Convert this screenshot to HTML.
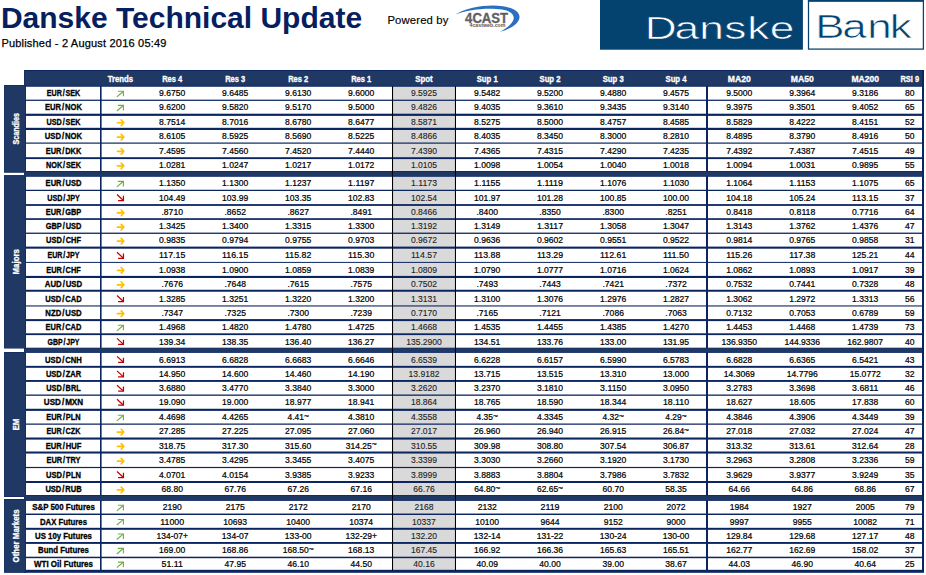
<!DOCTYPE html>
<html lang="en"><head><meta charset="utf-8">
<title>Danske Technical Update</title>
<style>
html,body{margin:0;padding:0;background:#fff}
body{width:926px;height:575px;overflow:hidden;font-family:"Liberation Sans",sans-serif}
svg{display:block}
text{font-family:"Liberation Sans",sans-serif}
.b{font-weight:bold;font-size:8.4px;text-anchor:middle;stroke-width:.3px}
.n{font-size:8.7px;text-anchor:middle;fill:#000;stroke:#000;stroke-width:.22px}
.s{font-size:8.7px;text-anchor:middle;fill:#1e1e26;stroke:#1e1e26;stroke-width:.12px}
</style></head><body>
<svg width="926" height="575" viewBox="0 0 926 575">
<rect width="926" height="575" fill="#fff"/>
<text x="0.9" y="27.7" font-size="30" font-weight="bold" fill="#06205f">Danske Technical Update</text>
<text x="1.4" y="46.6" font-size="11" fill="#000" stroke="#000" stroke-width="0.25" textLength="165" lengthAdjust="spacing">Published - 2 August 2016 05:49</text>
<text x="387.4" y="23.5" font-size="11.3" fill="#000" stroke="#000" stroke-width="0.15" textLength="61" lengthAdjust="spacing">Powered by</text>
<g id="fourcast">
<path d="M455.3 14.6C468 7 488 4.2 503 6.3C516 8.2 522 14 518.6 20.5C515.8 25.6 508.5 29.6 500 31.9C506 28.5 511.8 24.5 513.4 19.8C515 14.8 510.5 11 502 9.6C488.5 7.4 469 9.2 455.3 14.6Z" fill="#2b6fc0"/>
<text x="486.6" y="23.4" font-size="13.9" font-weight="bold" fill="#606064" stroke="#606064" stroke-width=".3" text-anchor="middle" textLength="43" lengthAdjust="spacingAndGlyphs">4CAST</text>
<text x="487.5" y="27.1" font-size="4.6" font-weight="bold" fill="#6e5548" text-anchor="middle" textLength="36" lengthAdjust="spacingAndGlyphs">4castweb.com</text>
</g>
<g id="dblogo">
<rect x="600" y="0" width="202.9" height="49.7" fill="#04426f"/>
<text transform="scale(1.38 1)" x="467.28 488.73 506.70 524.86 541.45 557.84" y="38.6" font-size="32.1" fill="#fff" stroke="#04426f" stroke-width=".6">Danske</text>
<rect x="808.5" y="0.85" width="114.9" height="48.25" fill="#fff" stroke="#04426f" stroke-width="1.25"/>
<rect x="807.9" y="0" width="116.1" height="1.7" fill="#04426f"/>
<text transform="scale(1.34 1)" x="608.32 628.62 647.24 664.07" y="38.5" font-size="32.8" fill="#04426f" stroke="#fff" stroke-width=".6">Bank</text>
</g>
<g id="table">
<rect x="24" y="70" width="900" height="502.8" fill="#0b2560"/>
<rect x="24.4" y="71" width="897.8" height="14.7" fill="#1f3864"/>
<rect x="4.05" y="85" width="21.9" height="87.7" fill="#0b2560"/>
<rect x="4.5" y="85.45" width="21" height="86.8" fill="#1f3864"/>
<rect x="4.05" y="175.1" width="21.9" height="173.4" fill="#0b2560"/>
<rect x="4.5" y="175.55" width="21" height="172.5" fill="#1f3864"/>
<rect x="4.05" y="352" width="21.9" height="145" fill="#0b2560"/>
<rect x="4.5" y="352.45" width="21" height="144.1" fill="#1f3864"/>
<rect x="4.05" y="499" width="21.9" height="73.8" fill="#0b2560"/>
<rect x="4.5" y="499.45" width="21" height="72.9" fill="#1f3864"/>
<rect x="24.4" y="171.55" width="897.8" height="4.7" fill="#1f3864"/>
<rect x="24.4" y="348.25" width="897.8" height="4.1" fill="#1f3864"/>
<rect x="24.4" y="495.55" width="897.8" height="4.8" fill="#1f3864"/>
<text x="120.4" y="82.3" class="b" fill="#fff" stroke="#fff" textLength="25.43" lengthAdjust="spacingAndGlyphs">Trends</text>
<text x="172.2" y="82.3" class="b" fill="#fff" stroke="#fff" textLength="20.09" lengthAdjust="spacingAndGlyphs">Res 4</text>
<text x="235.2" y="82.3" class="b" fill="#fff" stroke="#fff" textLength="20.09" lengthAdjust="spacingAndGlyphs">Res 3</text>
<text x="298.2" y="82.3" class="b" fill="#fff" stroke="#fff" textLength="20.09" lengthAdjust="spacingAndGlyphs">Res 2</text>
<text x="361.2" y="82.3" class="b" fill="#fff" stroke="#fff" textLength="20.09" lengthAdjust="spacingAndGlyphs">Res 1</text>
<text x="424" y="82.3" class="b" fill="#fff" stroke="#fff" textLength="17.42" lengthAdjust="spacingAndGlyphs">Spot</text>
<text x="487.2" y="82.3" class="b" fill="#fff" stroke="#fff" textLength="20.97" lengthAdjust="spacingAndGlyphs">Sup 1</text>
<text x="550" y="82.3" class="b" fill="#fff" stroke="#fff" textLength="20.97" lengthAdjust="spacingAndGlyphs">Sup 2</text>
<text x="613.2" y="82.3" class="b" fill="#fff" stroke="#fff" textLength="20.97" lengthAdjust="spacingAndGlyphs">Sup 3</text>
<text x="676" y="82.3" class="b" fill="#fff" stroke="#fff" textLength="20.97" lengthAdjust="spacingAndGlyphs">Sup 4</text>
<text x="739.3" y="82.3" class="b" fill="#fff" stroke="#fff" textLength="22.94" lengthAdjust="spacingAndGlyphs">MA20</text>
<text x="802.3" y="82.3" class="b" fill="#fff" stroke="#fff" textLength="22.94" lengthAdjust="spacingAndGlyphs">MA50</text>
<text x="865.2" y="82.3" class="b" fill="#fff" stroke="#fff" textLength="27.61" lengthAdjust="spacingAndGlyphs">MA200</text>
<text x="909.8" y="82.3" class="b" fill="#fff" stroke="#fff" textLength="18.63" lengthAdjust="spacingAndGlyphs">RSI 9</text>
<text transform="translate(18.5 128.85) rotate(-90)" class="b" fill="#fff" stroke="#fff" textLength="31.5" lengthAdjust="spacingAndGlyphs">Scandies</text>
<rect x="26" y="86.75" width="74" height="12.9" fill="#fff"/>
<rect x="101.6" y="86.75" width="290.4" height="12.9" fill="#fff"/>
<rect x="393" y="86.75" width="62" height="12.9" fill="#d9d9d9"/>
<rect x="456" y="86.75" width="250" height="12.9" fill="#fff"/>
<rect x="708" y="86.75" width="214" height="12.9" fill="#fff"/>
<text x="63.5" y="96.35" class="b" fill="#000" stroke="#000" textLength="33.49" lengthAdjust="spacingAndGlyphs">EUR<tspan dx="1">/</tspan><tspan dx="1">SEK</tspan></text>
<g fill="none" stroke="#70ad47" stroke-width="1.15"><path d="M116.8 96.85L123.2 91.45"/><path d="M117.8 91.25H123.4V96.35"/></g>
<text x="172.2" y="96.35" class="n" textLength="26.2" lengthAdjust="spacingAndGlyphs">9.6750</text>
<text x="235.2" y="96.35" class="n" textLength="26.2" lengthAdjust="spacingAndGlyphs">9.6485</text>
<text x="298.2" y="96.35" class="n" textLength="26.2" lengthAdjust="spacingAndGlyphs">9.6130</text>
<text x="361.2" y="96.35" class="n" textLength="26.2" lengthAdjust="spacingAndGlyphs">9.6000</text>
<text x="424" y="96.35" class="s" textLength="26.2" lengthAdjust="spacingAndGlyphs">9.5925</text>
<text x="487.2" y="96.35" class="n" textLength="26.2" lengthAdjust="spacingAndGlyphs">9.5482</text>
<text x="550" y="96.35" class="n" textLength="26.2" lengthAdjust="spacingAndGlyphs">9.5200</text>
<text x="613.2" y="96.35" class="n" textLength="26.2" lengthAdjust="spacingAndGlyphs">9.4880</text>
<text x="676" y="96.35" class="n" textLength="26.2" lengthAdjust="spacingAndGlyphs">9.4575</text>
<text x="739.3" y="96.35" class="n" textLength="26.2" lengthAdjust="spacingAndGlyphs">9.5000</text>
<text x="802.3" y="96.35" class="n" textLength="26.2" lengthAdjust="spacingAndGlyphs">9.3964</text>
<text x="865.2" y="96.35" class="n" textLength="26.2" lengthAdjust="spacingAndGlyphs">9.3186</text>
<text x="909.8" y="96.35" class="n" textLength="9.53" lengthAdjust="spacingAndGlyphs">80</text>
<rect x="26" y="100.9" width="74" height="12.8" fill="#fff"/>
<rect x="101.6" y="100.9" width="290.4" height="12.8" fill="#fff"/>
<rect x="393" y="100.9" width="62" height="12.8" fill="#d9d9d9"/>
<rect x="456" y="100.9" width="250" height="12.8" fill="#fff"/>
<rect x="708" y="100.9" width="214" height="12.8" fill="#fff"/>
<text x="63.5" y="110.45" class="b" fill="#000" stroke="#000" textLength="36.94" lengthAdjust="spacingAndGlyphs">EUR<tspan dx="1">/</tspan><tspan dx="1">NOK</tspan></text>
<g fill="none" stroke="#70ad47" stroke-width="1.15"><path d="M116.8 110.95L123.2 105.55"/><path d="M117.8 105.35H123.4V110.45"/></g>
<text x="172.2" y="110.45" class="n" textLength="26.2" lengthAdjust="spacingAndGlyphs">9.6200</text>
<text x="235.2" y="110.45" class="n" textLength="26.2" lengthAdjust="spacingAndGlyphs">9.5820</text>
<text x="298.2" y="110.45" class="n" textLength="26.2" lengthAdjust="spacingAndGlyphs">9.5170</text>
<text x="361.2" y="110.45" class="n" textLength="26.2" lengthAdjust="spacingAndGlyphs">9.5000</text>
<text x="424" y="110.45" class="s" textLength="26.2" lengthAdjust="spacingAndGlyphs">9.4826</text>
<text x="487.2" y="110.45" class="n" textLength="26.2" lengthAdjust="spacingAndGlyphs">9.4035</text>
<text x="550" y="110.45" class="n" textLength="26.2" lengthAdjust="spacingAndGlyphs">9.3610</text>
<text x="613.2" y="110.45" class="n" textLength="26.2" lengthAdjust="spacingAndGlyphs">9.3435</text>
<text x="676" y="110.45" class="n" textLength="26.2" lengthAdjust="spacingAndGlyphs">9.3140</text>
<text x="739.3" y="110.45" class="n" textLength="26.2" lengthAdjust="spacingAndGlyphs">9.3975</text>
<text x="802.3" y="110.45" class="n" textLength="26.2" lengthAdjust="spacingAndGlyphs">9.3501</text>
<text x="865.2" y="110.45" class="n" textLength="26.2" lengthAdjust="spacingAndGlyphs">9.4052</text>
<text x="909.8" y="110.45" class="n" textLength="9.53" lengthAdjust="spacingAndGlyphs">65</text>
<rect x="26" y="115.9" width="74" height="11.9" fill="#fff"/>
<rect x="101.6" y="115.9" width="290.4" height="11.9" fill="#fff"/>
<rect x="393" y="115.9" width="62" height="11.9" fill="#d9d9d9"/>
<rect x="456" y="115.9" width="250" height="11.9" fill="#fff"/>
<rect x="708" y="115.9" width="214" height="11.9" fill="#fff"/>
<text x="63.5" y="125" class="b" fill="#000" stroke="#000" textLength="33.97" lengthAdjust="spacingAndGlyphs">USD<tspan dx="1">/</tspan><tspan dx="1">SEK</tspan></text>
<g fill="none" stroke="#ffc000" stroke-width="1.7" stroke-linejoin="round" stroke-linecap="round"><path d="M117.4 122.75H123.2"/><path d="M121.2 119.95L123.8 122.75L121.2 125.55"/></g>
<text x="172.2" y="125" class="n" textLength="26.2" lengthAdjust="spacingAndGlyphs">8.7514</text>
<text x="235.2" y="125" class="n" textLength="26.2" lengthAdjust="spacingAndGlyphs">8.7016</text>
<text x="298.2" y="125" class="n" textLength="26.2" lengthAdjust="spacingAndGlyphs">8.6780</text>
<text x="361.2" y="125" class="n" textLength="26.2" lengthAdjust="spacingAndGlyphs">8.6477</text>
<text x="424" y="125" class="s" textLength="26.2" lengthAdjust="spacingAndGlyphs">8.5871</text>
<text x="487.2" y="125" class="n" textLength="26.2" lengthAdjust="spacingAndGlyphs">8.5275</text>
<text x="550" y="125" class="n" textLength="26.2" lengthAdjust="spacingAndGlyphs">8.5000</text>
<text x="613.2" y="125" class="n" textLength="26.2" lengthAdjust="spacingAndGlyphs">8.4757</text>
<text x="676" y="125" class="n" textLength="26.2" lengthAdjust="spacingAndGlyphs">8.4585</text>
<text x="739.3" y="125" class="n" textLength="26.2" lengthAdjust="spacingAndGlyphs">8.5829</text>
<text x="802.3" y="125" class="n" textLength="26.2" lengthAdjust="spacingAndGlyphs">8.4222</text>
<text x="865.2" y="125" class="n" textLength="26.2" lengthAdjust="spacingAndGlyphs">8.4151</text>
<text x="909.8" y="125" class="n" textLength="9.53" lengthAdjust="spacingAndGlyphs">52</text>
<rect x="26" y="130" width="74" height="12.5" fill="#fff"/>
<rect x="101.6" y="130" width="290.4" height="12.5" fill="#fff"/>
<rect x="393" y="130" width="62" height="12.5" fill="#d9d9d9"/>
<rect x="456" y="130" width="250" height="12.5" fill="#fff"/>
<rect x="708" y="130" width="214" height="12.5" fill="#fff"/>
<text x="63.5" y="139.4" class="b" fill="#000" stroke="#000" textLength="37.42" lengthAdjust="spacingAndGlyphs">USD<tspan dx="1">/</tspan><tspan dx="1">NOK</tspan></text>
<g fill="none" stroke="#ffc000" stroke-width="1.7" stroke-linejoin="round" stroke-linecap="round"><path d="M117.4 137.15H123.2"/><path d="M121.2 134.35L123.8 137.15L121.2 139.95"/></g>
<text x="172.2" y="139.4" class="n" textLength="26.2" lengthAdjust="spacingAndGlyphs">8.6105</text>
<text x="235.2" y="139.4" class="n" textLength="26.2" lengthAdjust="spacingAndGlyphs">8.5925</text>
<text x="298.2" y="139.4" class="n" textLength="26.2" lengthAdjust="spacingAndGlyphs">8.5690</text>
<text x="361.2" y="139.4" class="n" textLength="26.2" lengthAdjust="spacingAndGlyphs">8.5225</text>
<text x="424" y="139.4" class="s" textLength="26.2" lengthAdjust="spacingAndGlyphs">8.4866</text>
<text x="487.2" y="139.4" class="n" textLength="26.2" lengthAdjust="spacingAndGlyphs">8.4035</text>
<text x="550" y="139.4" class="n" textLength="26.2" lengthAdjust="spacingAndGlyphs">8.3450</text>
<text x="613.2" y="139.4" class="n" textLength="26.2" lengthAdjust="spacingAndGlyphs">8.3000</text>
<text x="676" y="139.4" class="n" textLength="26.2" lengthAdjust="spacingAndGlyphs">8.2810</text>
<text x="739.3" y="139.4" class="n" textLength="26.2" lengthAdjust="spacingAndGlyphs">8.4895</text>
<text x="802.3" y="139.4" class="n" textLength="26.2" lengthAdjust="spacingAndGlyphs">8.3790</text>
<text x="865.2" y="139.4" class="n" textLength="26.2" lengthAdjust="spacingAndGlyphs">8.4916</text>
<text x="909.8" y="139.4" class="n" textLength="9.53" lengthAdjust="spacingAndGlyphs">50</text>
<rect x="26" y="143.7" width="74" height="13.5" fill="#fff"/>
<rect x="101.6" y="143.7" width="290.4" height="13.5" fill="#fff"/>
<rect x="393" y="143.7" width="62" height="13.5" fill="#d9d9d9"/>
<rect x="456" y="143.7" width="250" height="13.5" fill="#fff"/>
<rect x="708" y="143.7" width="214" height="13.5" fill="#fff"/>
<text x="63.5" y="153.6" class="b" fill="#000" stroke="#000" textLength="35.49" lengthAdjust="spacingAndGlyphs">EUR<tspan dx="1">/</tspan><tspan dx="1">DKK</tspan></text>
<g fill="none" stroke="#ffc000" stroke-width="1.7" stroke-linejoin="round" stroke-linecap="round"><path d="M117.4 151.35H123.2"/><path d="M121.2 148.55L123.8 151.35L121.2 154.15"/></g>
<text x="172.2" y="153.6" class="n" textLength="26.2" lengthAdjust="spacingAndGlyphs">7.4595</text>
<text x="235.2" y="153.6" class="n" textLength="26.2" lengthAdjust="spacingAndGlyphs">7.4560</text>
<text x="298.2" y="153.6" class="n" textLength="26.2" lengthAdjust="spacingAndGlyphs">7.4520</text>
<text x="361.2" y="153.6" class="n" textLength="26.2" lengthAdjust="spacingAndGlyphs">7.4440</text>
<text x="424" y="153.6" class="s" textLength="26.2" lengthAdjust="spacingAndGlyphs">7.4390</text>
<text x="487.2" y="153.6" class="n" textLength="26.2" lengthAdjust="spacingAndGlyphs">7.4365</text>
<text x="550" y="153.6" class="n" textLength="26.2" lengthAdjust="spacingAndGlyphs">7.4315</text>
<text x="613.2" y="153.6" class="n" textLength="26.2" lengthAdjust="spacingAndGlyphs">7.4290</text>
<text x="676" y="153.6" class="n" textLength="26.2" lengthAdjust="spacingAndGlyphs">7.4235</text>
<text x="739.3" y="153.6" class="n" textLength="26.2" lengthAdjust="spacingAndGlyphs">7.4392</text>
<text x="802.3" y="153.6" class="n" textLength="26.2" lengthAdjust="spacingAndGlyphs">7.4387</text>
<text x="865.2" y="153.6" class="n" textLength="26.2" lengthAdjust="spacingAndGlyphs">7.4515</text>
<text x="909.8" y="153.6" class="n" textLength="9.53" lengthAdjust="spacingAndGlyphs">49</text>
<rect x="26" y="159.1" width="74" height="11.9" fill="#fff"/>
<rect x="101.6" y="159.1" width="290.4" height="11.9" fill="#fff"/>
<rect x="393" y="159.1" width="62" height="11.9" fill="#d9d9d9"/>
<rect x="456" y="159.1" width="250" height="11.9" fill="#fff"/>
<rect x="708" y="159.1" width="214" height="11.9" fill="#fff"/>
<text x="63.5" y="168.2" class="b" fill="#000" stroke="#000" textLength="35.13" lengthAdjust="spacingAndGlyphs">NOK<tspan dx="1">/</tspan><tspan dx="1">SEK</tspan></text>
<g fill="none" stroke="#ffc000" stroke-width="1.7" stroke-linejoin="round" stroke-linecap="round"><path d="M117.4 165.95H123.2"/><path d="M121.2 163.15L123.8 165.95L121.2 168.75"/></g>
<text x="172.2" y="168.2" class="n" textLength="26.2" lengthAdjust="spacingAndGlyphs">1.0281</text>
<text x="235.2" y="168.2" class="n" textLength="26.2" lengthAdjust="spacingAndGlyphs">1.0247</text>
<text x="298.2" y="168.2" class="n" textLength="26.2" lengthAdjust="spacingAndGlyphs">1.0217</text>
<text x="361.2" y="168.2" class="n" textLength="26.2" lengthAdjust="spacingAndGlyphs">1.0172</text>
<text x="424" y="168.2" class="s" textLength="26.2" lengthAdjust="spacingAndGlyphs">1.0105</text>
<text x="487.2" y="168.2" class="n" textLength="26.2" lengthAdjust="spacingAndGlyphs">1.0098</text>
<text x="550" y="168.2" class="n" textLength="26.2" lengthAdjust="spacingAndGlyphs">1.0054</text>
<text x="613.2" y="168.2" class="n" textLength="26.2" lengthAdjust="spacingAndGlyphs">1.0040</text>
<text x="676" y="168.2" class="n" textLength="26.2" lengthAdjust="spacingAndGlyphs">1.0018</text>
<text x="739.3" y="168.2" class="n" textLength="26.2" lengthAdjust="spacingAndGlyphs">1.0094</text>
<text x="802.3" y="168.2" class="n" textLength="26.2" lengthAdjust="spacingAndGlyphs">1.0031</text>
<text x="865.2" y="168.2" class="n" textLength="26.2" lengthAdjust="spacingAndGlyphs">0.9895</text>
<text x="909.8" y="168.2" class="n" textLength="9.53" lengthAdjust="spacingAndGlyphs">55</text>
<text transform="translate(18.5 261.8) rotate(-90)" class="b" fill="#fff" stroke="#fff" textLength="25.4" lengthAdjust="spacingAndGlyphs">Majors</text>
<rect x="26" y="176.8" width="74" height="12.95" fill="#fff"/>
<rect x="101.6" y="176.8" width="290.4" height="12.95" fill="#fff"/>
<rect x="393" y="176.8" width="62" height="12.95" fill="#d9d9d9"/>
<rect x="456" y="176.8" width="250" height="12.95" fill="#fff"/>
<rect x="708" y="176.8" width="214" height="12.95" fill="#fff"/>
<text x="63.5" y="186.43" class="b" fill="#000" stroke="#000" textLength="35.78" lengthAdjust="spacingAndGlyphs">EUR<tspan dx="1">/</tspan><tspan dx="1">USD</tspan></text>
<g fill="none" stroke="#70ad47" stroke-width="1.15"><path d="M116.8 186.93L123.2 181.53"/><path d="M117.8 181.33H123.4V186.43"/></g>
<text x="172.2" y="186.43" class="n" textLength="26.2" lengthAdjust="spacingAndGlyphs">1.1350</text>
<text x="235.2" y="186.43" class="n" textLength="26.2" lengthAdjust="spacingAndGlyphs">1.1300</text>
<text x="298.2" y="186.43" class="n" textLength="26.2" lengthAdjust="spacingAndGlyphs">1.1237</text>
<text x="361.2" y="186.43" class="n" textLength="26.2" lengthAdjust="spacingAndGlyphs">1.1197</text>
<text x="424" y="186.43" class="s" textLength="26.2" lengthAdjust="spacingAndGlyphs">1.1173</text>
<text x="487.2" y="186.43" class="n" textLength="26.2" lengthAdjust="spacingAndGlyphs">1.1155</text>
<text x="550" y="186.43" class="n" textLength="26.2" lengthAdjust="spacingAndGlyphs">1.1119</text>
<text x="613.2" y="186.43" class="n" textLength="26.2" lengthAdjust="spacingAndGlyphs">1.1076</text>
<text x="676" y="186.43" class="n" textLength="26.2" lengthAdjust="spacingAndGlyphs">1.1030</text>
<text x="739.3" y="186.43" class="n" textLength="26.2" lengthAdjust="spacingAndGlyphs">1.1064</text>
<text x="802.3" y="186.43" class="n" textLength="26.2" lengthAdjust="spacingAndGlyphs">1.1153</text>
<text x="865.2" y="186.43" class="n" textLength="26.2" lengthAdjust="spacingAndGlyphs">1.1075</text>
<text x="909.8" y="186.43" class="n" textLength="9.53" lengthAdjust="spacingAndGlyphs">65</text>
<rect x="26" y="191" width="74" height="13.1" fill="#fff"/>
<rect x="101.6" y="191" width="290.4" height="13.1" fill="#fff"/>
<rect x="393" y="191" width="62" height="13.1" fill="#d9d9d9"/>
<rect x="456" y="191" width="250" height="13.1" fill="#fff"/>
<rect x="708" y="191" width="214" height="13.1" fill="#fff"/>
<text x="63.5" y="200.7" class="b" fill="#000" stroke="#000" textLength="32.55" lengthAdjust="spacingAndGlyphs">USD<tspan dx="1">/</tspan><tspan dx="1">JPY</tspan></text>
<g fill="none" stroke="#c00000" stroke-width="1.25"><path d="M117 194.55L123.2 200.25"/><path d="M118.1 200.5H123.45V195.85"/></g>
<text x="172.2" y="200.7" class="n" textLength="26.2" lengthAdjust="spacingAndGlyphs">104.49</text>
<text x="235.2" y="200.7" class="n" textLength="26.2" lengthAdjust="spacingAndGlyphs">103.99</text>
<text x="298.2" y="200.7" class="n" textLength="26.2" lengthAdjust="spacingAndGlyphs">103.35</text>
<text x="361.2" y="200.7" class="n" textLength="26.2" lengthAdjust="spacingAndGlyphs">102.83</text>
<text x="424" y="200.7" class="s" textLength="26.2" lengthAdjust="spacingAndGlyphs">102.54</text>
<text x="487.2" y="200.7" class="n" textLength="26.2" lengthAdjust="spacingAndGlyphs">101.97</text>
<text x="550" y="200.7" class="n" textLength="26.2" lengthAdjust="spacingAndGlyphs">101.28</text>
<text x="613.2" y="200.7" class="n" textLength="26.2" lengthAdjust="spacingAndGlyphs">100.85</text>
<text x="676" y="200.7" class="n" textLength="26.2" lengthAdjust="spacingAndGlyphs">100.00</text>
<text x="739.3" y="200.7" class="n" textLength="26.2" lengthAdjust="spacingAndGlyphs">104.18</text>
<text x="802.3" y="200.7" class="n" textLength="26.2" lengthAdjust="spacingAndGlyphs">105.24</text>
<text x="865.2" y="200.7" class="n" textLength="26.2" lengthAdjust="spacingAndGlyphs">113.15</text>
<text x="909.8" y="200.7" class="n" textLength="9.53" lengthAdjust="spacingAndGlyphs">37</text>
<rect x="26" y="205.9" width="74" height="12.3" fill="#fff"/>
<rect x="101.6" y="205.9" width="290.4" height="12.3" fill="#fff"/>
<rect x="393" y="205.9" width="62" height="12.3" fill="#d9d9d9"/>
<rect x="456" y="205.9" width="250" height="12.3" fill="#fff"/>
<rect x="708" y="205.9" width="214" height="12.3" fill="#fff"/>
<text x="63.5" y="215.2" class="b" fill="#000" stroke="#000" textLength="35.54" lengthAdjust="spacingAndGlyphs">EUR<tspan dx="1">/</tspan><tspan dx="1">GBP</tspan></text>
<g fill="none" stroke="#ffc000" stroke-width="1.7" stroke-linejoin="round" stroke-linecap="round"><path d="M117.4 212.95H123.2"/><path d="M121.2 210.15L123.8 212.95L121.2 215.75"/></g>
<text x="172.2" y="215.2" class="n" textLength="21.43" lengthAdjust="spacingAndGlyphs">.8710</text>
<text x="235.2" y="215.2" class="n" textLength="21.43" lengthAdjust="spacingAndGlyphs">.8652</text>
<text x="298.2" y="215.2" class="n" textLength="21.43" lengthAdjust="spacingAndGlyphs">.8627</text>
<text x="361.2" y="215.2" class="n" textLength="21.43" lengthAdjust="spacingAndGlyphs">.8491</text>
<text x="424" y="215.2" class="s" textLength="26.2" lengthAdjust="spacingAndGlyphs">0.8466</text>
<text x="487.2" y="215.2" class="n" textLength="21.43" lengthAdjust="spacingAndGlyphs">.8400</text>
<text x="550" y="215.2" class="n" textLength="21.43" lengthAdjust="spacingAndGlyphs">.8350</text>
<text x="613.2" y="215.2" class="n" textLength="21.43" lengthAdjust="spacingAndGlyphs">.8300</text>
<text x="676" y="215.2" class="n" textLength="21.43" lengthAdjust="spacingAndGlyphs">.8251</text>
<text x="739.3" y="215.2" class="n" textLength="26.2" lengthAdjust="spacingAndGlyphs">0.8418</text>
<text x="802.3" y="215.2" class="n" textLength="26.2" lengthAdjust="spacingAndGlyphs">0.8118</text>
<text x="865.2" y="215.2" class="n" textLength="26.2" lengthAdjust="spacingAndGlyphs">0.7716</text>
<text x="909.8" y="215.2" class="n" textLength="9.53" lengthAdjust="spacingAndGlyphs">64</text>
<rect x="26" y="219.9" width="74" height="12.7" fill="#fff"/>
<rect x="101.6" y="219.9" width="290.4" height="12.7" fill="#fff"/>
<rect x="393" y="219.9" width="62" height="12.7" fill="#d9d9d9"/>
<rect x="456" y="219.9" width="250" height="12.7" fill="#fff"/>
<rect x="708" y="219.9" width="214" height="12.7" fill="#fff"/>
<text x="63.5" y="229.4" class="b" fill="#000" stroke="#000" textLength="35.64" lengthAdjust="spacingAndGlyphs">GBP<tspan dx="1">/</tspan><tspan dx="1">USD</tspan></text>
<g fill="none" stroke="#ffc000" stroke-width="1.7" stroke-linejoin="round" stroke-linecap="round"><path d="M117.4 227.15H123.2"/><path d="M121.2 224.35L123.8 227.15L121.2 229.95"/></g>
<text x="172.2" y="229.4" class="n" textLength="26.2" lengthAdjust="spacingAndGlyphs">1.3425</text>
<text x="235.2" y="229.4" class="n" textLength="26.2" lengthAdjust="spacingAndGlyphs">1.3400</text>
<text x="298.2" y="229.4" class="n" textLength="26.2" lengthAdjust="spacingAndGlyphs">1.3315</text>
<text x="361.2" y="229.4" class="n" textLength="26.2" lengthAdjust="spacingAndGlyphs">1.3300</text>
<text x="424" y="229.4" class="s" textLength="26.2" lengthAdjust="spacingAndGlyphs">1.3192</text>
<text x="487.2" y="229.4" class="n" textLength="26.2" lengthAdjust="spacingAndGlyphs">1.3149</text>
<text x="550" y="229.4" class="n" textLength="26.2" lengthAdjust="spacingAndGlyphs">1.3117</text>
<text x="613.2" y="229.4" class="n" textLength="26.2" lengthAdjust="spacingAndGlyphs">1.3058</text>
<text x="676" y="229.4" class="n" textLength="26.2" lengthAdjust="spacingAndGlyphs">1.3047</text>
<text x="739.3" y="229.4" class="n" textLength="26.2" lengthAdjust="spacingAndGlyphs">1.3143</text>
<text x="802.3" y="229.4" class="n" textLength="26.2" lengthAdjust="spacingAndGlyphs">1.3762</text>
<text x="865.2" y="229.4" class="n" textLength="26.2" lengthAdjust="spacingAndGlyphs">1.4376</text>
<text x="909.8" y="229.4" class="n" textLength="9.53" lengthAdjust="spacingAndGlyphs">47</text>
<rect x="26" y="233.9" width="74" height="12.7" fill="#fff"/>
<rect x="101.6" y="233.9" width="290.4" height="12.7" fill="#fff"/>
<rect x="393" y="233.9" width="62" height="12.7" fill="#d9d9d9"/>
<rect x="456" y="233.9" width="250" height="12.7" fill="#fff"/>
<rect x="708" y="233.9" width="214" height="12.7" fill="#fff"/>
<text x="63.5" y="243.4" class="b" fill="#000" stroke="#000" textLength="35" lengthAdjust="spacingAndGlyphs">USD<tspan dx="1">/</tspan><tspan dx="1">CHF</tspan></text>
<g fill="none" stroke="#ffc000" stroke-width="1.7" stroke-linejoin="round" stroke-linecap="round"><path d="M117.4 241.15H123.2"/><path d="M121.2 238.35L123.8 241.15L121.2 243.95"/></g>
<text x="172.2" y="243.4" class="n" textLength="26.2" lengthAdjust="spacingAndGlyphs">0.9835</text>
<text x="235.2" y="243.4" class="n" textLength="26.2" lengthAdjust="spacingAndGlyphs">0.9794</text>
<text x="298.2" y="243.4" class="n" textLength="26.2" lengthAdjust="spacingAndGlyphs">0.9755</text>
<text x="361.2" y="243.4" class="n" textLength="26.2" lengthAdjust="spacingAndGlyphs">0.9703</text>
<text x="424" y="243.4" class="s" textLength="26.2" lengthAdjust="spacingAndGlyphs">0.9672</text>
<text x="487.2" y="243.4" class="n" textLength="26.2" lengthAdjust="spacingAndGlyphs">0.9636</text>
<text x="550" y="243.4" class="n" textLength="26.2" lengthAdjust="spacingAndGlyphs">0.9602</text>
<text x="613.2" y="243.4" class="n" textLength="26.2" lengthAdjust="spacingAndGlyphs">0.9551</text>
<text x="676" y="243.4" class="n" textLength="26.2" lengthAdjust="spacingAndGlyphs">0.9522</text>
<text x="739.3" y="243.4" class="n" textLength="26.2" lengthAdjust="spacingAndGlyphs">0.9814</text>
<text x="802.3" y="243.4" class="n" textLength="26.2" lengthAdjust="spacingAndGlyphs">0.9765</text>
<text x="865.2" y="243.4" class="n" textLength="26.2" lengthAdjust="spacingAndGlyphs">0.9858</text>
<text x="909.8" y="243.4" class="n" textLength="9.53" lengthAdjust="spacingAndGlyphs">31</text>
<rect x="26" y="248.7" width="74" height="13.2" fill="#fff"/>
<rect x="101.6" y="248.7" width="290.4" height="13.2" fill="#fff"/>
<rect x="393" y="248.7" width="62" height="13.2" fill="#d9d9d9"/>
<rect x="456" y="248.7" width="250" height="13.2" fill="#fff"/>
<rect x="708" y="248.7" width="214" height="13.2" fill="#fff"/>
<text x="63.5" y="258.45" class="b" fill="#000" stroke="#000" textLength="32.07" lengthAdjust="spacingAndGlyphs">EUR<tspan dx="1">/</tspan><tspan dx="1">JPY</tspan></text>
<g fill="none" stroke="#c00000" stroke-width="1.25"><path d="M117 252.3L123.2 258"/><path d="M118.1 258.25H123.45V253.6"/></g>
<text x="172.2" y="258.45" class="n" textLength="26.2" lengthAdjust="spacingAndGlyphs">117.15</text>
<text x="235.2" y="258.45" class="n" textLength="26.2" lengthAdjust="spacingAndGlyphs">116.15</text>
<text x="298.2" y="258.45" class="n" textLength="26.2" lengthAdjust="spacingAndGlyphs">115.82</text>
<text x="361.2" y="258.45" class="n" textLength="26.2" lengthAdjust="spacingAndGlyphs">115.30</text>
<text x="424" y="258.45" class="s" textLength="26.2" lengthAdjust="spacingAndGlyphs">114.57</text>
<text x="487.2" y="258.45" class="n" textLength="26.2" lengthAdjust="spacingAndGlyphs">113.88</text>
<text x="550" y="258.45" class="n" textLength="26.2" lengthAdjust="spacingAndGlyphs">113.29</text>
<text x="613.2" y="258.45" class="n" textLength="26.2" lengthAdjust="spacingAndGlyphs">112.61</text>
<text x="676" y="258.45" class="n" textLength="26.2" lengthAdjust="spacingAndGlyphs">111.50</text>
<text x="739.3" y="258.45" class="n" textLength="26.2" lengthAdjust="spacingAndGlyphs">115.26</text>
<text x="802.3" y="258.45" class="n" textLength="26.2" lengthAdjust="spacingAndGlyphs">117.38</text>
<text x="865.2" y="258.45" class="n" textLength="26.2" lengthAdjust="spacingAndGlyphs">125.21</text>
<text x="909.8" y="258.45" class="n" textLength="9.53" lengthAdjust="spacingAndGlyphs">44</text>
<rect x="26" y="262.9" width="74" height="13" fill="#fff"/>
<rect x="101.6" y="262.9" width="290.4" height="13" fill="#fff"/>
<rect x="393" y="262.9" width="62" height="13" fill="#d9d9d9"/>
<rect x="456" y="262.9" width="250" height="13" fill="#fff"/>
<rect x="708" y="262.9" width="214" height="13" fill="#fff"/>
<text x="63.5" y="272.55" class="b" fill="#000" stroke="#000" textLength="34.52" lengthAdjust="spacingAndGlyphs">EUR<tspan dx="1">/</tspan><tspan dx="1">CHF</tspan></text>
<g fill="none" stroke="#ffc000" stroke-width="1.7" stroke-linejoin="round" stroke-linecap="round"><path d="M117.4 270.3H123.2"/><path d="M121.2 267.5L123.8 270.3L121.2 273.1"/></g>
<text x="172.2" y="272.55" class="n" textLength="26.2" lengthAdjust="spacingAndGlyphs">1.0938</text>
<text x="235.2" y="272.55" class="n" textLength="26.2" lengthAdjust="spacingAndGlyphs">1.0900</text>
<text x="298.2" y="272.55" class="n" textLength="26.2" lengthAdjust="spacingAndGlyphs">1.0859</text>
<text x="361.2" y="272.55" class="n" textLength="26.2" lengthAdjust="spacingAndGlyphs">1.0839</text>
<text x="424" y="272.55" class="s" textLength="26.2" lengthAdjust="spacingAndGlyphs">1.0809</text>
<text x="487.2" y="272.55" class="n" textLength="26.2" lengthAdjust="spacingAndGlyphs">1.0790</text>
<text x="550" y="272.55" class="n" textLength="26.2" lengthAdjust="spacingAndGlyphs">1.0777</text>
<text x="613.2" y="272.55" class="n" textLength="26.2" lengthAdjust="spacingAndGlyphs">1.0716</text>
<text x="676" y="272.55" class="n" textLength="26.2" lengthAdjust="spacingAndGlyphs">1.0624</text>
<text x="739.3" y="272.55" class="n" textLength="26.2" lengthAdjust="spacingAndGlyphs">1.0862</text>
<text x="802.3" y="272.55" class="n" textLength="26.2" lengthAdjust="spacingAndGlyphs">1.0893</text>
<text x="865.2" y="272.55" class="n" textLength="26.2" lengthAdjust="spacingAndGlyphs">1.0917</text>
<text x="909.8" y="272.55" class="n" textLength="9.53" lengthAdjust="spacingAndGlyphs">39</text>
<rect x="26" y="278" width="74" height="11.75" fill="#fff"/>
<rect x="101.6" y="278" width="290.4" height="11.75" fill="#fff"/>
<rect x="393" y="278" width="62" height="11.75" fill="#d9d9d9"/>
<rect x="456" y="278" width="250" height="11.75" fill="#fff"/>
<rect x="708" y="278" width="214" height="11.75" fill="#fff"/>
<text x="63.5" y="287.02" class="b" fill="#000" stroke="#000" textLength="37.33" lengthAdjust="spacingAndGlyphs">AUD<tspan dx="1">/</tspan><tspan dx="1">USD</tspan></text>
<g fill="none" stroke="#ffc000" stroke-width="1.7" stroke-linejoin="round" stroke-linecap="round"><path d="M117.4 284.78H123.2"/><path d="M121.2 281.98L123.8 284.78L121.2 287.58"/></g>
<text x="172.2" y="287.02" class="n" textLength="21.43" lengthAdjust="spacingAndGlyphs">.7676</text>
<text x="235.2" y="287.02" class="n" textLength="21.43" lengthAdjust="spacingAndGlyphs">.7648</text>
<text x="298.2" y="287.02" class="n" textLength="21.43" lengthAdjust="spacingAndGlyphs">.7615</text>
<text x="361.2" y="287.02" class="n" textLength="21.43" lengthAdjust="spacingAndGlyphs">.7575</text>
<text x="424" y="287.02" class="s" textLength="26.2" lengthAdjust="spacingAndGlyphs">0.7502</text>
<text x="487.2" y="287.02" class="n" textLength="21.43" lengthAdjust="spacingAndGlyphs">.7493</text>
<text x="550" y="287.02" class="n" textLength="21.43" lengthAdjust="spacingAndGlyphs">.7443</text>
<text x="613.2" y="287.02" class="n" textLength="21.43" lengthAdjust="spacingAndGlyphs">.7421</text>
<text x="676" y="287.02" class="n" textLength="21.43" lengthAdjust="spacingAndGlyphs">.7372</text>
<text x="739.3" y="287.02" class="n" textLength="26.2" lengthAdjust="spacingAndGlyphs">0.7532</text>
<text x="802.3" y="287.02" class="n" textLength="26.2" lengthAdjust="spacingAndGlyphs">0.7441</text>
<text x="865.2" y="287.02" class="n" textLength="26.2" lengthAdjust="spacingAndGlyphs">0.7328</text>
<text x="909.8" y="287.02" class="n" textLength="9.53" lengthAdjust="spacingAndGlyphs">48</text>
<rect x="26" y="291.75" width="74" height="13.65" fill="#fff"/>
<rect x="101.6" y="291.75" width="290.4" height="13.65" fill="#fff"/>
<rect x="393" y="291.75" width="62" height="13.65" fill="#d9d9d9"/>
<rect x="456" y="291.75" width="250" height="13.65" fill="#fff"/>
<rect x="708" y="291.75" width="214" height="13.65" fill="#fff"/>
<text x="63.5" y="301.72" class="b" fill="#000" stroke="#000" textLength="36.35" lengthAdjust="spacingAndGlyphs">USD<tspan dx="1">/</tspan><tspan dx="1">CAD</tspan></text>
<g fill="none" stroke="#c00000" stroke-width="1.25"><path d="M117 295.57L123.2 301.27"/><path d="M118.1 301.52H123.45V296.88"/></g>
<text x="172.2" y="301.72" class="n" textLength="26.2" lengthAdjust="spacingAndGlyphs">1.3285</text>
<text x="235.2" y="301.72" class="n" textLength="26.2" lengthAdjust="spacingAndGlyphs">1.3251</text>
<text x="298.2" y="301.72" class="n" textLength="26.2" lengthAdjust="spacingAndGlyphs">1.3220</text>
<text x="361.2" y="301.72" class="n" textLength="26.2" lengthAdjust="spacingAndGlyphs">1.3200</text>
<text x="424" y="301.72" class="s" textLength="26.2" lengthAdjust="spacingAndGlyphs">1.3131</text>
<text x="487.2" y="301.72" class="n" textLength="26.2" lengthAdjust="spacingAndGlyphs">1.3100</text>
<text x="550" y="301.72" class="n" textLength="26.2" lengthAdjust="spacingAndGlyphs">1.3076</text>
<text x="613.2" y="301.72" class="n" textLength="26.2" lengthAdjust="spacingAndGlyphs">1.2976</text>
<text x="676" y="301.72" class="n" textLength="26.2" lengthAdjust="spacingAndGlyphs">1.2827</text>
<text x="739.3" y="301.72" class="n" textLength="26.2" lengthAdjust="spacingAndGlyphs">1.3062</text>
<text x="802.3" y="301.72" class="n" textLength="26.2" lengthAdjust="spacingAndGlyphs">1.2972</text>
<text x="865.2" y="301.72" class="n" textLength="26.2" lengthAdjust="spacingAndGlyphs">1.3313</text>
<text x="909.8" y="301.72" class="n" textLength="9.53" lengthAdjust="spacingAndGlyphs">56</text>
<rect x="26" y="306.5" width="74" height="12.6" fill="#fff"/>
<rect x="101.6" y="306.5" width="290.4" height="12.6" fill="#fff"/>
<rect x="393" y="306.5" width="62" height="12.6" fill="#d9d9d9"/>
<rect x="456" y="306.5" width="250" height="12.6" fill="#fff"/>
<rect x="708" y="306.5" width="214" height="12.6" fill="#fff"/>
<text x="63.5" y="315.95" class="b" fill="#000" stroke="#000" textLength="36.36" lengthAdjust="spacingAndGlyphs">NZD<tspan dx="1">/</tspan><tspan dx="1">USD</tspan></text>
<g fill="none" stroke="#ffc000" stroke-width="1.7" stroke-linejoin="round" stroke-linecap="round"><path d="M117.4 313.7H123.2"/><path d="M121.2 310.9L123.8 313.7L121.2 316.5"/></g>
<text x="172.2" y="315.95" class="n" textLength="21.43" lengthAdjust="spacingAndGlyphs">.7347</text>
<text x="235.2" y="315.95" class="n" textLength="21.43" lengthAdjust="spacingAndGlyphs">.7325</text>
<text x="298.2" y="315.95" class="n" textLength="21.43" lengthAdjust="spacingAndGlyphs">.7300</text>
<text x="361.2" y="315.95" class="n" textLength="21.43" lengthAdjust="spacingAndGlyphs">.7239</text>
<text x="424" y="315.95" class="s" textLength="26.2" lengthAdjust="spacingAndGlyphs">0.7170</text>
<text x="487.2" y="315.95" class="n" textLength="21.43" lengthAdjust="spacingAndGlyphs">.7165</text>
<text x="550" y="315.95" class="n" textLength="21.43" lengthAdjust="spacingAndGlyphs">.7121</text>
<text x="613.2" y="315.95" class="n" textLength="21.43" lengthAdjust="spacingAndGlyphs">.7086</text>
<text x="676" y="315.95" class="n" textLength="21.43" lengthAdjust="spacingAndGlyphs">.7063</text>
<text x="739.3" y="315.95" class="n" textLength="26.2" lengthAdjust="spacingAndGlyphs">0.7132</text>
<text x="802.3" y="315.95" class="n" textLength="26.2" lengthAdjust="spacingAndGlyphs">0.7053</text>
<text x="865.2" y="315.95" class="n" textLength="26.2" lengthAdjust="spacingAndGlyphs">0.6789</text>
<text x="909.8" y="315.95" class="n" textLength="9.53" lengthAdjust="spacingAndGlyphs">59</text>
<rect x="26" y="321.1" width="74" height="12.2" fill="#fff"/>
<rect x="101.6" y="321.1" width="290.4" height="12.2" fill="#fff"/>
<rect x="393" y="321.1" width="62" height="12.2" fill="#d9d9d9"/>
<rect x="456" y="321.1" width="250" height="12.2" fill="#fff"/>
<rect x="708" y="321.1" width="214" height="12.2" fill="#fff"/>
<text x="63.5" y="330.35" class="b" fill="#000" stroke="#000" textLength="35.87" lengthAdjust="spacingAndGlyphs">EUR<tspan dx="1">/</tspan><tspan dx="1">CAD</tspan></text>
<g fill="none" stroke="#70ad47" stroke-width="1.15"><path d="M116.8 330.85L123.2 325.45"/><path d="M117.8 325.25H123.4V330.35"/></g>
<text x="172.2" y="330.35" class="n" textLength="26.2" lengthAdjust="spacingAndGlyphs">1.4968</text>
<text x="235.2" y="330.35" class="n" textLength="26.2" lengthAdjust="spacingAndGlyphs">1.4820</text>
<text x="298.2" y="330.35" class="n" textLength="26.2" lengthAdjust="spacingAndGlyphs">1.4780</text>
<text x="361.2" y="330.35" class="n" textLength="26.2" lengthAdjust="spacingAndGlyphs">1.4725</text>
<text x="424" y="330.35" class="s" textLength="26.2" lengthAdjust="spacingAndGlyphs">1.4668</text>
<text x="487.2" y="330.35" class="n" textLength="26.2" lengthAdjust="spacingAndGlyphs">1.4535</text>
<text x="550" y="330.35" class="n" textLength="26.2" lengthAdjust="spacingAndGlyphs">1.4455</text>
<text x="613.2" y="330.35" class="n" textLength="26.2" lengthAdjust="spacingAndGlyphs">1.4385</text>
<text x="676" y="330.35" class="n" textLength="26.2" lengthAdjust="spacingAndGlyphs">1.4270</text>
<text x="739.3" y="330.35" class="n" textLength="26.2" lengthAdjust="spacingAndGlyphs">1.4453</text>
<text x="802.3" y="330.35" class="n" textLength="26.2" lengthAdjust="spacingAndGlyphs">1.4468</text>
<text x="865.2" y="330.35" class="n" textLength="26.2" lengthAdjust="spacingAndGlyphs">1.4739</text>
<text x="909.8" y="330.35" class="n" textLength="9.53" lengthAdjust="spacingAndGlyphs">73</text>
<rect x="26" y="335.1" width="74" height="12.6" fill="#fff"/>
<rect x="101.6" y="335.1" width="290.4" height="12.6" fill="#fff"/>
<rect x="393" y="335.1" width="62" height="12.6" fill="#d9d9d9"/>
<rect x="456" y="335.1" width="250" height="12.6" fill="#fff"/>
<rect x="708" y="335.1" width="214" height="12.6" fill="#fff"/>
<text x="63.5" y="344.55" class="b" fill="#000" stroke="#000" textLength="31.93" lengthAdjust="spacingAndGlyphs">GBP<tspan dx="1">/</tspan><tspan dx="1">JPY</tspan></text>
<g fill="none" stroke="#c00000" stroke-width="1.25"><path d="M117 338.4L123.2 344.1"/><path d="M118.1 344.35H123.45V339.7"/></g>
<text x="172.2" y="344.55" class="n" textLength="26.2" lengthAdjust="spacingAndGlyphs">139.34</text>
<text x="235.2" y="344.55" class="n" textLength="26.2" lengthAdjust="spacingAndGlyphs">138.35</text>
<text x="298.2" y="344.55" class="n" textLength="26.2" lengthAdjust="spacingAndGlyphs">136.40</text>
<text x="361.2" y="344.55" class="n" textLength="26.2" lengthAdjust="spacingAndGlyphs">136.27</text>
<text x="424" y="344.55" class="s" textLength="35.73" lengthAdjust="spacingAndGlyphs">135.2900</text>
<text x="487.2" y="344.55" class="n" textLength="26.2" lengthAdjust="spacingAndGlyphs">134.51</text>
<text x="550" y="344.55" class="n" textLength="26.2" lengthAdjust="spacingAndGlyphs">133.76</text>
<text x="613.2" y="344.55" class="n" textLength="26.2" lengthAdjust="spacingAndGlyphs">133.00</text>
<text x="676" y="344.55" class="n" textLength="26.2" lengthAdjust="spacingAndGlyphs">131.95</text>
<text x="739.3" y="344.55" class="n" textLength="35.73" lengthAdjust="spacingAndGlyphs">136.9350</text>
<text x="802.3" y="344.55" class="n" textLength="35.73" lengthAdjust="spacingAndGlyphs">144.9336</text>
<text x="865.2" y="344.55" class="n" textLength="35.73" lengthAdjust="spacingAndGlyphs">162.9807</text>
<text x="909.8" y="344.55" class="n" textLength="9.53" lengthAdjust="spacingAndGlyphs">40</text>
<text transform="translate(18.5 424.5) rotate(-90)" class="b" fill="#fff" stroke="#fff" textLength="11.92" lengthAdjust="spacingAndGlyphs">EM</text>
<rect x="26" y="352.9" width="74" height="12.95" fill="#fff"/>
<rect x="101.6" y="352.9" width="290.4" height="12.95" fill="#fff"/>
<rect x="393" y="352.9" width="62" height="12.95" fill="#d9d9d9"/>
<rect x="456" y="352.9" width="250" height="12.95" fill="#fff"/>
<rect x="708" y="352.9" width="214" height="12.95" fill="#fff"/>
<text x="63.5" y="362.52" class="b" fill="#000" stroke="#000" textLength="36.84" lengthAdjust="spacingAndGlyphs">USD<tspan dx="1">/</tspan><tspan dx="1">CNH</tspan></text>
<g fill="none" stroke="#c00000" stroke-width="1.25"><path d="M117 356.38L123.2 362.07"/><path d="M118.1 362.32H123.45V357.68"/></g>
<text x="172.2" y="362.52" class="n" textLength="26.2" lengthAdjust="spacingAndGlyphs">6.6913</text>
<text x="235.2" y="362.52" class="n" textLength="26.2" lengthAdjust="spacingAndGlyphs">6.6828</text>
<text x="298.2" y="362.52" class="n" textLength="26.2" lengthAdjust="spacingAndGlyphs">6.6683</text>
<text x="361.2" y="362.52" class="n" textLength="26.2" lengthAdjust="spacingAndGlyphs">6.6646</text>
<text x="424" y="362.52" class="s" textLength="26.2" lengthAdjust="spacingAndGlyphs">6.6539</text>
<text x="487.2" y="362.52" class="n" textLength="26.2" lengthAdjust="spacingAndGlyphs">6.6228</text>
<text x="550" y="362.52" class="n" textLength="26.2" lengthAdjust="spacingAndGlyphs">6.6157</text>
<text x="613.2" y="362.52" class="n" textLength="26.2" lengthAdjust="spacingAndGlyphs">6.5990</text>
<text x="676" y="362.52" class="n" textLength="26.2" lengthAdjust="spacingAndGlyphs">6.5783</text>
<text x="739.3" y="362.52" class="n" textLength="26.2" lengthAdjust="spacingAndGlyphs">6.6828</text>
<text x="802.3" y="362.52" class="n" textLength="26.2" lengthAdjust="spacingAndGlyphs">6.6365</text>
<text x="865.2" y="362.52" class="n" textLength="26.2" lengthAdjust="spacingAndGlyphs">6.5421</text>
<text x="909.8" y="362.52" class="n" textLength="9.53" lengthAdjust="spacingAndGlyphs">43</text>
<rect x="26" y="367.8" width="74" height="12.2" fill="#fff"/>
<rect x="101.6" y="367.8" width="290.4" height="12.2" fill="#fff"/>
<rect x="393" y="367.8" width="62" height="12.2" fill="#d9d9d9"/>
<rect x="456" y="367.8" width="250" height="12.2" fill="#fff"/>
<rect x="708" y="367.8" width="214" height="12.2" fill="#fff"/>
<text x="63.5" y="377.05" class="b" fill="#000" stroke="#000" textLength="35.2" lengthAdjust="spacingAndGlyphs">USD<tspan dx="1">/</tspan><tspan dx="1">ZAR</tspan></text>
<g fill="none" stroke="#c00000" stroke-width="1.25"><path d="M117 370.9L123.2 376.6"/><path d="M118.1 376.85H123.45V372.2"/></g>
<text x="172.2" y="377.05" class="n" textLength="26.2" lengthAdjust="spacingAndGlyphs">14.950</text>
<text x="235.2" y="377.05" class="n" textLength="26.2" lengthAdjust="spacingAndGlyphs">14.600</text>
<text x="298.2" y="377.05" class="n" textLength="26.2" lengthAdjust="spacingAndGlyphs">14.460</text>
<text x="361.2" y="377.05" class="n" textLength="26.2" lengthAdjust="spacingAndGlyphs">14.190</text>
<text x="424" y="377.05" class="s" textLength="30.96" lengthAdjust="spacingAndGlyphs">13.9182</text>
<text x="487.2" y="377.05" class="n" textLength="26.2" lengthAdjust="spacingAndGlyphs">13.715</text>
<text x="550" y="377.05" class="n" textLength="26.2" lengthAdjust="spacingAndGlyphs">13.515</text>
<text x="613.2" y="377.05" class="n" textLength="26.2" lengthAdjust="spacingAndGlyphs">13.310</text>
<text x="676" y="377.05" class="n" textLength="26.2" lengthAdjust="spacingAndGlyphs">13.000</text>
<text x="739.3" y="377.05" class="n" textLength="30.96" lengthAdjust="spacingAndGlyphs">14.3069</text>
<text x="802.3" y="377.05" class="n" textLength="30.96" lengthAdjust="spacingAndGlyphs">14.7796</text>
<text x="865.2" y="377.05" class="n" textLength="30.96" lengthAdjust="spacingAndGlyphs">15.0772</text>
<text x="909.8" y="377.05" class="n" textLength="9.53" lengthAdjust="spacingAndGlyphs">32</text>
<rect x="26" y="381.9" width="74" height="12.6" fill="#fff"/>
<rect x="101.6" y="381.9" width="290.4" height="12.6" fill="#fff"/>
<rect x="393" y="381.9" width="62" height="12.6" fill="#d9d9d9"/>
<rect x="456" y="381.9" width="250" height="12.6" fill="#fff"/>
<rect x="708" y="381.9" width="214" height="12.6" fill="#fff"/>
<text x="63.5" y="391.35" class="b" fill="#000" stroke="#000" textLength="34.33" lengthAdjust="spacingAndGlyphs">USD<tspan dx="1">/</tspan><tspan dx="1">BRL</tspan></text>
<g fill="none" stroke="#c00000" stroke-width="1.25"><path d="M117 385.2L123.2 390.9"/><path d="M118.1 391.15H123.45V386.5"/></g>
<text x="172.2" y="391.35" class="n" textLength="26.2" lengthAdjust="spacingAndGlyphs">3.6880</text>
<text x="235.2" y="391.35" class="n" textLength="26.2" lengthAdjust="spacingAndGlyphs">3.4770</text>
<text x="298.2" y="391.35" class="n" textLength="26.2" lengthAdjust="spacingAndGlyphs">3.3840</text>
<text x="361.2" y="391.35" class="n" textLength="26.2" lengthAdjust="spacingAndGlyphs">3.3000</text>
<text x="424" y="391.35" class="s" textLength="26.2" lengthAdjust="spacingAndGlyphs">3.2620</text>
<text x="487.2" y="391.35" class="n" textLength="26.2" lengthAdjust="spacingAndGlyphs">3.2370</text>
<text x="550" y="391.35" class="n" textLength="26.2" lengthAdjust="spacingAndGlyphs">3.1810</text>
<text x="613.2" y="391.35" class="n" textLength="26.2" lengthAdjust="spacingAndGlyphs">3.1150</text>
<text x="676" y="391.35" class="n" textLength="26.2" lengthAdjust="spacingAndGlyphs">3.0950</text>
<text x="739.3" y="391.35" class="n" textLength="26.2" lengthAdjust="spacingAndGlyphs">3.2783</text>
<text x="802.3" y="391.35" class="n" textLength="26.2" lengthAdjust="spacingAndGlyphs">3.3698</text>
<text x="865.2" y="391.35" class="n" textLength="26.2" lengthAdjust="spacingAndGlyphs">3.6811</text>
<text x="909.8" y="391.35" class="n" textLength="9.53" lengthAdjust="spacingAndGlyphs">46</text>
<rect x="26" y="395.8" width="74" height="12.95" fill="#fff"/>
<rect x="101.6" y="395.8" width="290.4" height="12.95" fill="#fff"/>
<rect x="393" y="395.8" width="62" height="12.95" fill="#d9d9d9"/>
<rect x="456" y="395.8" width="250" height="12.95" fill="#fff"/>
<rect x="708" y="395.8" width="214" height="12.95" fill="#fff"/>
<text x="63.5" y="405.42" class="b" fill="#000" stroke="#000" textLength="39.28" lengthAdjust="spacingAndGlyphs">USD<tspan dx="1">/</tspan><tspan dx="1">MXN</tspan></text>
<g fill="none" stroke="#c00000" stroke-width="1.25"><path d="M117 399.27L123.2 404.97"/><path d="M118.1 405.22H123.45V400.57"/></g>
<text x="172.2" y="405.42" class="n" textLength="26.2" lengthAdjust="spacingAndGlyphs">19.090</text>
<text x="235.2" y="405.42" class="n" textLength="26.2" lengthAdjust="spacingAndGlyphs">19.000</text>
<text x="298.2" y="405.42" class="n" textLength="26.2" lengthAdjust="spacingAndGlyphs">18.977</text>
<text x="361.2" y="405.42" class="n" textLength="26.2" lengthAdjust="spacingAndGlyphs">18.941</text>
<text x="424" y="405.42" class="s" textLength="26.2" lengthAdjust="spacingAndGlyphs">18.864</text>
<text x="487.2" y="405.42" class="n" textLength="26.2" lengthAdjust="spacingAndGlyphs">18.765</text>
<text x="550" y="405.42" class="n" textLength="26.2" lengthAdjust="spacingAndGlyphs">18.590</text>
<text x="613.2" y="405.42" class="n" textLength="26.2" lengthAdjust="spacingAndGlyphs">18.344</text>
<text x="676" y="405.42" class="n" textLength="26.2" lengthAdjust="spacingAndGlyphs">18.110</text>
<text x="739.3" y="405.42" class="n" textLength="26.2" lengthAdjust="spacingAndGlyphs">18.627</text>
<text x="802.3" y="405.42" class="n" textLength="26.2" lengthAdjust="spacingAndGlyphs">18.605</text>
<text x="865.2" y="405.42" class="n" textLength="26.2" lengthAdjust="spacingAndGlyphs">17.838</text>
<text x="909.8" y="405.42" class="n" textLength="9.53" lengthAdjust="spacingAndGlyphs">60</text>
<rect x="26" y="410.9" width="74" height="12.6" fill="#fff"/>
<rect x="101.6" y="410.9" width="290.4" height="12.6" fill="#fff"/>
<rect x="393" y="410.9" width="62" height="12.6" fill="#d9d9d9"/>
<rect x="456" y="410.9" width="250" height="12.6" fill="#fff"/>
<rect x="708" y="410.9" width="214" height="12.6" fill="#fff"/>
<text x="63.5" y="420.35" class="b" fill="#000" stroke="#000" textLength="34.47" lengthAdjust="spacingAndGlyphs">EUR<tspan dx="1">/</tspan><tspan dx="1">PLN</tspan></text>
<g fill="none" stroke="#70ad47" stroke-width="1.15"><path d="M116.8 420.85L123.2 415.45"/><path d="M117.8 415.25H123.4V420.35"/></g>
<text x="172.2" y="420.35" class="n" textLength="26.2" lengthAdjust="spacingAndGlyphs">4.4698</text>
<text x="235.2" y="420.35" class="n" textLength="26.2" lengthAdjust="spacingAndGlyphs">4.4265</text>
<text x="298.2" y="420.35" class="n" textLength="21.35" lengthAdjust="spacingAndGlyphs">4.41<tspan dy="-1.3">~</tspan></text>
<text x="361.2" y="420.35" class="n" textLength="26.2" lengthAdjust="spacingAndGlyphs">4.3810</text>
<text x="424" y="420.35" class="s" textLength="26.2" lengthAdjust="spacingAndGlyphs">4.3558</text>
<text x="487.2" y="420.35" class="n" textLength="21.35" lengthAdjust="spacingAndGlyphs">4.35<tspan dy="-1.3">~</tspan></text>
<text x="550" y="420.35" class="n" textLength="26.2" lengthAdjust="spacingAndGlyphs">4.3345</text>
<text x="613.2" y="420.35" class="n" textLength="21.35" lengthAdjust="spacingAndGlyphs">4.32<tspan dy="-1.3">~</tspan></text>
<text x="676" y="420.35" class="n" textLength="21.35" lengthAdjust="spacingAndGlyphs">4.29<tspan dy="-1.3">~</tspan></text>
<text x="739.3" y="420.35" class="n" textLength="26.2" lengthAdjust="spacingAndGlyphs">4.3846</text>
<text x="802.3" y="420.35" class="n" textLength="26.2" lengthAdjust="spacingAndGlyphs">4.3906</text>
<text x="865.2" y="420.35" class="n" textLength="26.2" lengthAdjust="spacingAndGlyphs">4.3449</text>
<text x="909.8" y="420.35" class="n" textLength="9.53" lengthAdjust="spacingAndGlyphs">39</text>
<rect x="26" y="424.75" width="74" height="12.75" fill="#fff"/>
<rect x="101.6" y="424.75" width="290.4" height="12.75" fill="#fff"/>
<rect x="393" y="424.75" width="62" height="12.75" fill="#d9d9d9"/>
<rect x="456" y="424.75" width="250" height="12.75" fill="#fff"/>
<rect x="708" y="424.75" width="214" height="12.75" fill="#fff"/>
<text x="63.5" y="434.27" class="b" fill="#000" stroke="#000" textLength="33.92" lengthAdjust="spacingAndGlyphs">EUR<tspan dx="1">/</tspan><tspan dx="1">CZK</tspan></text>
<g fill="none" stroke="#ffc000" stroke-width="1.7" stroke-linejoin="round" stroke-linecap="round"><path d="M117.4 432.03H123.2"/><path d="M121.2 429.23L123.8 432.03L121.2 434.83"/></g>
<text x="172.2" y="434.27" class="n" textLength="26.2" lengthAdjust="spacingAndGlyphs">27.285</text>
<text x="235.2" y="434.27" class="n" textLength="26.2" lengthAdjust="spacingAndGlyphs">27.225</text>
<text x="298.2" y="434.27" class="n" textLength="26.2" lengthAdjust="spacingAndGlyphs">27.095</text>
<text x="361.2" y="434.27" class="n" textLength="26.2" lengthAdjust="spacingAndGlyphs">27.060</text>
<text x="424" y="434.27" class="s" textLength="26.2" lengthAdjust="spacingAndGlyphs">27.017</text>
<text x="487.2" y="434.27" class="n" textLength="26.2" lengthAdjust="spacingAndGlyphs">26.960</text>
<text x="550" y="434.27" class="n" textLength="26.2" lengthAdjust="spacingAndGlyphs">26.940</text>
<text x="613.2" y="434.27" class="n" textLength="26.2" lengthAdjust="spacingAndGlyphs">26.915</text>
<text x="676" y="434.27" class="n" textLength="26.11" lengthAdjust="spacingAndGlyphs">26.84<tspan dy="-1.3">~</tspan></text>
<text x="739.3" y="434.27" class="n" textLength="26.2" lengthAdjust="spacingAndGlyphs">27.018</text>
<text x="802.3" y="434.27" class="n" textLength="26.2" lengthAdjust="spacingAndGlyphs">27.032</text>
<text x="865.2" y="434.27" class="n" textLength="26.2" lengthAdjust="spacingAndGlyphs">27.024</text>
<text x="909.8" y="434.27" class="n" textLength="9.53" lengthAdjust="spacingAndGlyphs">47</text>
<rect x="26" y="439.6" width="74" height="11.9" fill="#fff"/>
<rect x="101.6" y="439.6" width="290.4" height="11.9" fill="#fff"/>
<rect x="393" y="439.6" width="62" height="11.9" fill="#d9d9d9"/>
<rect x="456" y="439.6" width="250" height="11.9" fill="#fff"/>
<rect x="708" y="439.6" width="214" height="11.9" fill="#fff"/>
<text x="63.5" y="448.7" class="b" fill="#000" stroke="#000" textLength="35.66" lengthAdjust="spacingAndGlyphs">EUR<tspan dx="1">/</tspan><tspan dx="1">HUF</tspan></text>
<g fill="none" stroke="#ffc000" stroke-width="1.7" stroke-linejoin="round" stroke-linecap="round"><path d="M117.4 446.45H123.2"/><path d="M121.2 443.65L123.8 446.45L121.2 449.25"/></g>
<text x="172.2" y="448.7" class="n" textLength="26.2" lengthAdjust="spacingAndGlyphs">318.75</text>
<text x="235.2" y="448.7" class="n" textLength="26.2" lengthAdjust="spacingAndGlyphs">317.30</text>
<text x="298.2" y="448.7" class="n" textLength="26.2" lengthAdjust="spacingAndGlyphs">315.60</text>
<text x="361.2" y="448.7" class="n" textLength="30.88" lengthAdjust="spacingAndGlyphs">314.25<tspan dy="-1.3">~</tspan></text>
<text x="424" y="448.7" class="s" textLength="26.2" lengthAdjust="spacingAndGlyphs">310.55</text>
<text x="487.2" y="448.7" class="n" textLength="26.2" lengthAdjust="spacingAndGlyphs">309.98</text>
<text x="550" y="448.7" class="n" textLength="26.2" lengthAdjust="spacingAndGlyphs">308.80</text>
<text x="613.2" y="448.7" class="n" textLength="26.2" lengthAdjust="spacingAndGlyphs">307.54</text>
<text x="676" y="448.7" class="n" textLength="26.2" lengthAdjust="spacingAndGlyphs">306.87</text>
<text x="739.3" y="448.7" class="n" textLength="26.2" lengthAdjust="spacingAndGlyphs">313.32</text>
<text x="802.3" y="448.7" class="n" textLength="26.2" lengthAdjust="spacingAndGlyphs">313.61</text>
<text x="865.2" y="448.7" class="n" textLength="26.2" lengthAdjust="spacingAndGlyphs">312.64</text>
<text x="909.8" y="448.7" class="n" textLength="9.53" lengthAdjust="spacingAndGlyphs">28</text>
<rect x="26" y="453.55" width="74" height="13.35" fill="#fff"/>
<rect x="101.6" y="453.55" width="290.4" height="13.35" fill="#fff"/>
<rect x="393" y="453.55" width="62" height="13.35" fill="#d9d9d9"/>
<rect x="456" y="453.55" width="250" height="13.35" fill="#fff"/>
<rect x="708" y="453.55" width="214" height="13.35" fill="#fff"/>
<text x="63.5" y="463.38" class="b" fill="#000" stroke="#000" textLength="33.97" lengthAdjust="spacingAndGlyphs">EUR<tspan dx="1">/</tspan><tspan dx="1">TRY</tspan></text>
<g fill="none" stroke="#ffc000" stroke-width="1.7" stroke-linejoin="round" stroke-linecap="round"><path d="M117.4 461.13H123.2"/><path d="M121.2 458.33L123.8 461.13L121.2 463.93"/></g>
<text x="172.2" y="463.38" class="n" textLength="26.2" lengthAdjust="spacingAndGlyphs">3.4785</text>
<text x="235.2" y="463.38" class="n" textLength="26.2" lengthAdjust="spacingAndGlyphs">3.4295</text>
<text x="298.2" y="463.38" class="n" textLength="26.2" lengthAdjust="spacingAndGlyphs">3.3455</text>
<text x="361.2" y="463.38" class="n" textLength="26.2" lengthAdjust="spacingAndGlyphs">3.4075</text>
<text x="424" y="463.38" class="s" textLength="26.2" lengthAdjust="spacingAndGlyphs">3.3399</text>
<text x="487.2" y="463.38" class="n" textLength="26.2" lengthAdjust="spacingAndGlyphs">3.3030</text>
<text x="550" y="463.38" class="n" textLength="26.2" lengthAdjust="spacingAndGlyphs">3.2660</text>
<text x="613.2" y="463.38" class="n" textLength="26.2" lengthAdjust="spacingAndGlyphs">3.1920</text>
<text x="676" y="463.38" class="n" textLength="26.2" lengthAdjust="spacingAndGlyphs">3.1730</text>
<text x="739.3" y="463.38" class="n" textLength="26.2" lengthAdjust="spacingAndGlyphs">3.2963</text>
<text x="802.3" y="463.38" class="n" textLength="26.2" lengthAdjust="spacingAndGlyphs">3.2808</text>
<text x="865.2" y="463.38" class="n" textLength="26.2" lengthAdjust="spacingAndGlyphs">3.2336</text>
<text x="909.8" y="463.38" class="n" textLength="9.53" lengthAdjust="spacingAndGlyphs">59</text>
<rect x="26" y="468.1" width="74" height="12.9" fill="#fff"/>
<rect x="101.6" y="468.1" width="290.4" height="12.9" fill="#fff"/>
<rect x="393" y="468.1" width="62" height="12.9" fill="#d9d9d9"/>
<rect x="456" y="468.1" width="250" height="12.9" fill="#fff"/>
<rect x="708" y="468.1" width="214" height="12.9" fill="#fff"/>
<text x="63.5" y="477.7" class="b" fill="#000" stroke="#000" textLength="34.95" lengthAdjust="spacingAndGlyphs">USD<tspan dx="1">/</tspan><tspan dx="1">PLN</tspan></text>
<g fill="none" stroke="#c00000" stroke-width="1.25"><path d="M117 471.55L123.2 477.25"/><path d="M118.1 477.5H123.45V472.85"/></g>
<text x="172.2" y="477.7" class="n" textLength="26.2" lengthAdjust="spacingAndGlyphs">4.0701</text>
<text x="235.2" y="477.7" class="n" textLength="26.2" lengthAdjust="spacingAndGlyphs">4.0154</text>
<text x="298.2" y="477.7" class="n" textLength="26.2" lengthAdjust="spacingAndGlyphs">3.9385</text>
<text x="361.2" y="477.7" class="n" textLength="26.2" lengthAdjust="spacingAndGlyphs">3.9233</text>
<text x="424" y="477.7" class="s" textLength="26.2" lengthAdjust="spacingAndGlyphs">3.8999</text>
<text x="487.2" y="477.7" class="n" textLength="26.2" lengthAdjust="spacingAndGlyphs">3.8883</text>
<text x="550" y="477.7" class="n" textLength="26.2" lengthAdjust="spacingAndGlyphs">3.8804</text>
<text x="613.2" y="477.7" class="n" textLength="26.2" lengthAdjust="spacingAndGlyphs">3.7986</text>
<text x="676" y="477.7" class="n" textLength="26.2" lengthAdjust="spacingAndGlyphs">3.7832</text>
<text x="739.3" y="477.7" class="n" textLength="26.2" lengthAdjust="spacingAndGlyphs">3.9629</text>
<text x="802.3" y="477.7" class="n" textLength="26.2" lengthAdjust="spacingAndGlyphs">3.9377</text>
<text x="865.2" y="477.7" class="n" textLength="26.2" lengthAdjust="spacingAndGlyphs">3.9249</text>
<text x="909.8" y="477.7" class="n" textLength="9.53" lengthAdjust="spacingAndGlyphs">35</text>
<rect x="26" y="483" width="74" height="12" fill="#fff"/>
<rect x="101.6" y="483" width="290.4" height="12" fill="#fff"/>
<rect x="393" y="483" width="62" height="12" fill="#d9d9d9"/>
<rect x="456" y="483" width="250" height="12" fill="#fff"/>
<rect x="708" y="483" width="214" height="12" fill="#fff"/>
<text x="63.5" y="492.15" class="b" fill="#000" stroke="#000" textLength="36.23" lengthAdjust="spacingAndGlyphs">USD<tspan dx="1">/</tspan><tspan dx="1">RUB</tspan></text>
<g fill="none" stroke="#ffc000" stroke-width="1.7" stroke-linejoin="round" stroke-linecap="round"><path d="M117.4 489.9H123.2"/><path d="M121.2 487.1L123.8 489.9L121.2 492.7"/></g>
<text x="172.2" y="492.15" class="n" textLength="21.43" lengthAdjust="spacingAndGlyphs">68.80</text>
<text x="235.2" y="492.15" class="n" textLength="21.43" lengthAdjust="spacingAndGlyphs">67.76</text>
<text x="298.2" y="492.15" class="n" textLength="21.43" lengthAdjust="spacingAndGlyphs">67.26</text>
<text x="361.2" y="492.15" class="n" textLength="21.43" lengthAdjust="spacingAndGlyphs">67.16</text>
<text x="424" y="492.15" class="s" textLength="21.43" lengthAdjust="spacingAndGlyphs">66.76</text>
<text x="487.2" y="492.15" class="n" textLength="26.11" lengthAdjust="spacingAndGlyphs">64.80<tspan dy="-1.3">~</tspan></text>
<text x="550" y="492.15" class="n" textLength="26.11" lengthAdjust="spacingAndGlyphs">62.65<tspan dy="-1.3">~</tspan></text>
<text x="613.2" y="492.15" class="n" textLength="21.43" lengthAdjust="spacingAndGlyphs">60.70</text>
<text x="676" y="492.15" class="n" textLength="21.43" lengthAdjust="spacingAndGlyphs">58.35</text>
<text x="739.3" y="492.15" class="n" textLength="21.43" lengthAdjust="spacingAndGlyphs">64.66</text>
<text x="802.3" y="492.15" class="n" textLength="21.43" lengthAdjust="spacingAndGlyphs">64.86</text>
<text x="865.2" y="492.15" class="n" textLength="21.43" lengthAdjust="spacingAndGlyphs">68.86</text>
<text x="909.8" y="492.15" class="n" textLength="9.53" lengthAdjust="spacingAndGlyphs">67</text>
<text transform="translate(18.5 535.9) rotate(-90)" class="b" fill="#fff" stroke="#fff" textLength="53.05" lengthAdjust="spacingAndGlyphs">Other Markets</text>
<rect x="26" y="500.9" width="74" height="12.65" fill="#fff"/>
<rect x="101.6" y="500.9" width="290.4" height="12.65" fill="#fff"/>
<rect x="393" y="500.9" width="62" height="12.65" fill="#d9d9d9"/>
<rect x="456" y="500.9" width="250" height="12.65" fill="#fff"/>
<rect x="708" y="500.9" width="214" height="12.65" fill="#fff"/>
<text x="63.5" y="510.37" class="b" fill="#000" stroke="#000" textLength="62.63" lengthAdjust="spacingAndGlyphs">S&amp;P 500 Futures</text>
<g fill="none" stroke="#70ad47" stroke-width="1.15"><path d="M116.8 510.88L123.2 505.48"/><path d="M117.8 505.27H123.4V510.38"/></g>
<text x="172.2" y="510.37" class="n" textLength="19.06" lengthAdjust="spacingAndGlyphs">2190</text>
<text x="235.2" y="510.37" class="n" textLength="19.06" lengthAdjust="spacingAndGlyphs">2175</text>
<text x="298.2" y="510.37" class="n" textLength="19.06" lengthAdjust="spacingAndGlyphs">2172</text>
<text x="361.2" y="510.37" class="n" textLength="19.06" lengthAdjust="spacingAndGlyphs">2170</text>
<text x="424" y="510.37" class="s" textLength="19.06" lengthAdjust="spacingAndGlyphs">2168</text>
<text x="487.2" y="510.37" class="n" textLength="19.06" lengthAdjust="spacingAndGlyphs">2132</text>
<text x="550" y="510.37" class="n" textLength="19.06" lengthAdjust="spacingAndGlyphs">2119</text>
<text x="613.2" y="510.37" class="n" textLength="19.06" lengthAdjust="spacingAndGlyphs">2100</text>
<text x="676" y="510.37" class="n" textLength="19.06" lengthAdjust="spacingAndGlyphs">2072</text>
<text x="739.3" y="510.37" class="n" textLength="19.06" lengthAdjust="spacingAndGlyphs">1984</text>
<text x="802.3" y="510.37" class="n" textLength="19.06" lengthAdjust="spacingAndGlyphs">1927</text>
<text x="865.2" y="510.37" class="n" textLength="19.06" lengthAdjust="spacingAndGlyphs">2005</text>
<text x="909.8" y="510.37" class="n" textLength="9.53" lengthAdjust="spacingAndGlyphs">79</text>
<rect x="26" y="515" width="74" height="12.8" fill="#fff"/>
<rect x="101.6" y="515" width="290.4" height="12.8" fill="#fff"/>
<rect x="393" y="515" width="62" height="12.8" fill="#d9d9d9"/>
<rect x="456" y="515" width="250" height="12.8" fill="#fff"/>
<rect x="708" y="515" width="214" height="12.8" fill="#fff"/>
<text x="63.5" y="524.55" class="b" fill="#000" stroke="#000" textLength="47.06" lengthAdjust="spacingAndGlyphs">DAX Futures</text>
<g fill="none" stroke="#70ad47" stroke-width="1.15"><path d="M116.8 525.05L123.2 519.65"/><path d="M117.8 519.45H123.4V524.55"/></g>
<text x="172.2" y="524.55" class="n" textLength="23.82" lengthAdjust="spacingAndGlyphs">11000</text>
<text x="235.2" y="524.55" class="n" textLength="23.82" lengthAdjust="spacingAndGlyphs">10693</text>
<text x="298.2" y="524.55" class="n" textLength="23.82" lengthAdjust="spacingAndGlyphs">10400</text>
<text x="361.2" y="524.55" class="n" textLength="23.82" lengthAdjust="spacingAndGlyphs">10374</text>
<text x="424" y="524.55" class="s" textLength="23.82" lengthAdjust="spacingAndGlyphs">10337</text>
<text x="487.2" y="524.55" class="n" textLength="23.82" lengthAdjust="spacingAndGlyphs">10100</text>
<text x="550" y="524.55" class="n" textLength="19.06" lengthAdjust="spacingAndGlyphs">9644</text>
<text x="613.2" y="524.55" class="n" textLength="19.06" lengthAdjust="spacingAndGlyphs">9152</text>
<text x="676" y="524.55" class="n" textLength="19.06" lengthAdjust="spacingAndGlyphs">9000</text>
<text x="739.3" y="524.55" class="n" textLength="19.06" lengthAdjust="spacingAndGlyphs">9997</text>
<text x="802.3" y="524.55" class="n" textLength="19.06" lengthAdjust="spacingAndGlyphs">9955</text>
<text x="865.2" y="524.55" class="n" textLength="23.82" lengthAdjust="spacingAndGlyphs">10082</text>
<text x="909.8" y="524.55" class="n" textLength="9.53" lengthAdjust="spacingAndGlyphs">71</text>
<rect x="26" y="529.8" width="74" height="12.2" fill="#fff"/>
<rect x="101.6" y="529.8" width="290.4" height="12.2" fill="#fff"/>
<rect x="393" y="529.8" width="62" height="12.2" fill="#d9d9d9"/>
<rect x="456" y="529.8" width="250" height="12.2" fill="#fff"/>
<rect x="708" y="529.8" width="214" height="12.2" fill="#fff"/>
<text x="63.5" y="539.05" class="b" fill="#000" stroke="#000" textLength="56.95" lengthAdjust="spacingAndGlyphs">US 10y Futures</text>
<g fill="none" stroke="#70ad47" stroke-width="1.15"><path d="M116.8 539.55L123.2 534.15"/><path d="M117.8 533.95H123.4V539.05"/></g>
<text x="172.2" y="539.05" class="n" textLength="31.38" lengthAdjust="spacingAndGlyphs">134-07+</text>
<text x="235.2" y="539.05" class="n" textLength="26.7" lengthAdjust="spacingAndGlyphs">134-07</text>
<text x="298.2" y="539.05" class="n" textLength="26.7" lengthAdjust="spacingAndGlyphs">133-00</text>
<text x="361.2" y="539.05" class="n" textLength="31.38" lengthAdjust="spacingAndGlyphs">132-29+</text>
<text x="424" y="539.05" class="s" textLength="26.2" lengthAdjust="spacingAndGlyphs">132.20</text>
<text x="487.2" y="539.05" class="n" textLength="26.7" lengthAdjust="spacingAndGlyphs">132-14</text>
<text x="550" y="539.05" class="n" textLength="26.7" lengthAdjust="spacingAndGlyphs">131-22</text>
<text x="613.2" y="539.05" class="n" textLength="26.7" lengthAdjust="spacingAndGlyphs">130-24</text>
<text x="676" y="539.05" class="n" textLength="26.7" lengthAdjust="spacingAndGlyphs">130-00</text>
<text x="739.3" y="539.05" class="n" textLength="26.2" lengthAdjust="spacingAndGlyphs">129.84</text>
<text x="802.3" y="539.05" class="n" textLength="26.2" lengthAdjust="spacingAndGlyphs">129.68</text>
<text x="865.2" y="539.05" class="n" textLength="26.2" lengthAdjust="spacingAndGlyphs">127.17</text>
<text x="909.8" y="539.05" class="n" textLength="9.53" lengthAdjust="spacingAndGlyphs">48</text>
<rect x="26" y="543.9" width="74" height="12.8" fill="#fff"/>
<rect x="101.6" y="543.9" width="290.4" height="12.8" fill="#fff"/>
<rect x="393" y="543.9" width="62" height="12.8" fill="#d9d9d9"/>
<rect x="456" y="543.9" width="250" height="12.8" fill="#fff"/>
<rect x="708" y="543.9" width="214" height="12.8" fill="#fff"/>
<text x="63.5" y="553.45" class="b" fill="#000" stroke="#000" textLength="50.8" lengthAdjust="spacingAndGlyphs">Bund Futures</text>
<g fill="none" stroke="#70ad47" stroke-width="1.15"><path d="M116.8 553.95L123.2 548.55"/><path d="M117.8 548.35H123.4V553.45"/></g>
<text x="172.2" y="553.45" class="n" textLength="26.2" lengthAdjust="spacingAndGlyphs">169.00</text>
<text x="235.2" y="553.45" class="n" textLength="26.2" lengthAdjust="spacingAndGlyphs">168.86</text>
<text x="298.2" y="553.45" class="n" textLength="30.88" lengthAdjust="spacingAndGlyphs">168.50<tspan dy="-1.3">~</tspan></text>
<text x="361.2" y="553.45" class="n" textLength="26.2" lengthAdjust="spacingAndGlyphs">168.13</text>
<text x="424" y="553.45" class="s" textLength="26.2" lengthAdjust="spacingAndGlyphs">167.45</text>
<text x="487.2" y="553.45" class="n" textLength="26.2" lengthAdjust="spacingAndGlyphs">166.92</text>
<text x="550" y="553.45" class="n" textLength="26.2" lengthAdjust="spacingAndGlyphs">166.36</text>
<text x="613.2" y="553.45" class="n" textLength="26.2" lengthAdjust="spacingAndGlyphs">165.63</text>
<text x="676" y="553.45" class="n" textLength="26.2" lengthAdjust="spacingAndGlyphs">165.51</text>
<text x="739.3" y="553.45" class="n" textLength="26.2" lengthAdjust="spacingAndGlyphs">162.77</text>
<text x="802.3" y="553.45" class="n" textLength="26.2" lengthAdjust="spacingAndGlyphs">162.69</text>
<text x="865.2" y="553.45" class="n" textLength="26.2" lengthAdjust="spacingAndGlyphs">158.02</text>
<text x="909.8" y="553.45" class="n" textLength="9.53" lengthAdjust="spacingAndGlyphs">37</text>
<rect x="26" y="558.2" width="74" height="11.6" fill="#fff"/>
<rect x="101.6" y="558.2" width="290.4" height="11.6" fill="#fff"/>
<rect x="393" y="558.2" width="62" height="11.6" fill="#d9d9d9"/>
<rect x="456" y="558.2" width="250" height="11.6" fill="#fff"/>
<rect x="708" y="558.2" width="214" height="11.6" fill="#fff"/>
<text x="63.5" y="567.15" class="b" fill="#000" stroke="#000" textLength="59" lengthAdjust="spacingAndGlyphs">WTI Oil Futures</text>
<g fill="none" stroke="#70ad47" stroke-width="1.15"><path d="M116.8 567.65L123.2 562.25"/><path d="M117.8 562.05H123.4V567.15"/></g>
<text x="172.2" y="567.15" class="n" textLength="21.43" lengthAdjust="spacingAndGlyphs">51.11</text>
<text x="235.2" y="567.15" class="n" textLength="21.43" lengthAdjust="spacingAndGlyphs">47.95</text>
<text x="298.2" y="567.15" class="n" textLength="21.43" lengthAdjust="spacingAndGlyphs">46.10</text>
<text x="361.2" y="567.15" class="n" textLength="21.43" lengthAdjust="spacingAndGlyphs">44.50</text>
<text x="424" y="567.15" class="s" textLength="21.43" lengthAdjust="spacingAndGlyphs">40.16</text>
<text x="487.2" y="567.15" class="n" textLength="21.43" lengthAdjust="spacingAndGlyphs">40.09</text>
<text x="550" y="567.15" class="n" textLength="21.43" lengthAdjust="spacingAndGlyphs">40.00</text>
<text x="613.2" y="567.15" class="n" textLength="21.43" lengthAdjust="spacingAndGlyphs">39.00</text>
<text x="676" y="567.15" class="n" textLength="21.43" lengthAdjust="spacingAndGlyphs">38.67</text>
<text x="739.3" y="567.15" class="n" textLength="21.43" lengthAdjust="spacingAndGlyphs">44.03</text>
<text x="802.3" y="567.15" class="n" textLength="21.43" lengthAdjust="spacingAndGlyphs">46.90</text>
<text x="865.2" y="567.15" class="n" textLength="21.43" lengthAdjust="spacingAndGlyphs">40.64</text>
<text x="909.8" y="567.15" class="n" textLength="9.53" lengthAdjust="spacingAndGlyphs">25</text>
<rect x="392" y="86.4" width="1.05" height="484" fill="#000"/>
<rect x="454.95" y="86.4" width="1.05" height="484" fill="#000"/>
</g>
</svg>
</body></html>
